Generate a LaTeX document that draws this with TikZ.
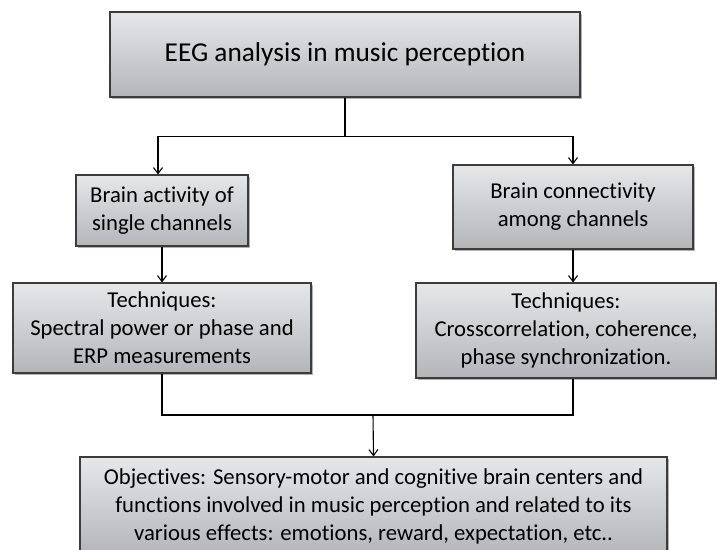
\documentclass[tikz,border=0pt]{standalone}
\usepackage{fontspec}
\setmainfont{Carlito}[Ligatures={NoCommon}]
\usetikzlibrary{arrows.meta,shadows}
\definecolor{edge}{HTML}{3C3C3C}
\definecolor{boxtop}{HTML}{E6E7E9}
\definecolor{boxbot}{HTML}{B3B5B8}
\begin{document}
\begin{tikzpicture}[x=1pt,y=-1pt,
  box/.style={draw=edge, line width=1.1pt, top color=boxtop, bottom color=boxbot,
    align=center, inner sep=0pt, font=\fontsize{22.7}{28}\selectfont,
    drop shadow={shadow xshift=1.5pt, shadow yshift=-1.5pt, opacity=0.3, fill=black}},
  link/.style={draw=black, line width=1.1pt},
  tip/.style={-{Straight Barb[length=6pt,width=9pt]}}
]
\fill[white] (0,0) rectangle (717,549);
\useasboundingbox (0,0) rectangle (717,549);
\clip (0,0) rectangle (717,549);

\node[box, minimum width=470pt, minimum height=85pt, font=\fontsize{27.3}{32}\selectfont] (top) at (345,54.5) {EEG analysis in music perception};
\node[box, minimum width=172pt, minimum height=71pt] (lb) at (162,210.5) {Brain activity of\\single channels};
\node[box, minimum width=240pt, minimum height=84pt] (rb) at (573,207) {Brain connectivity\\among channels};
\node[box, minimum width=298pt, minimum height=90pt] (lt) at (162,328) {Techniques:\\Spectral power or phase and\\ERP measurements};
\node[box, minimum width=300pt, minimum height=95pt] (rt) at (566,330.5) {Techniques:\\Crosscorrelation, coherence,\\phase synchronization.};
\node[box, minimum width=587pt, minimum height=98pt] (obj) at (373.5,506) {Objectives: Sensory-motor and cognitive brain centers and\\functions involved in music perception and related to its\\various effects: emotions, reward, expectation, etc..};

\draw[link] (top.south) -- ++(0,39) coordinate (j1);
\draw[link,tip] (j1) -| ([xshift=-4pt]lb.north);
\draw[link,tip] (j1) -| (rb.north);
\draw[link,tip] (lb.south) -- (lt.north);
\draw[link,tip] (rb.south) -- (rb.south |- rt.north);
\coordinate (j2) at (373,415);
\draw[link] (lt.south) |- (j2);
\draw[link] (rb.south |- rt.south) |- (j2);
\draw[link,tip] (j2) -- (obj.north);
\end{tikzpicture}
\end{document}
